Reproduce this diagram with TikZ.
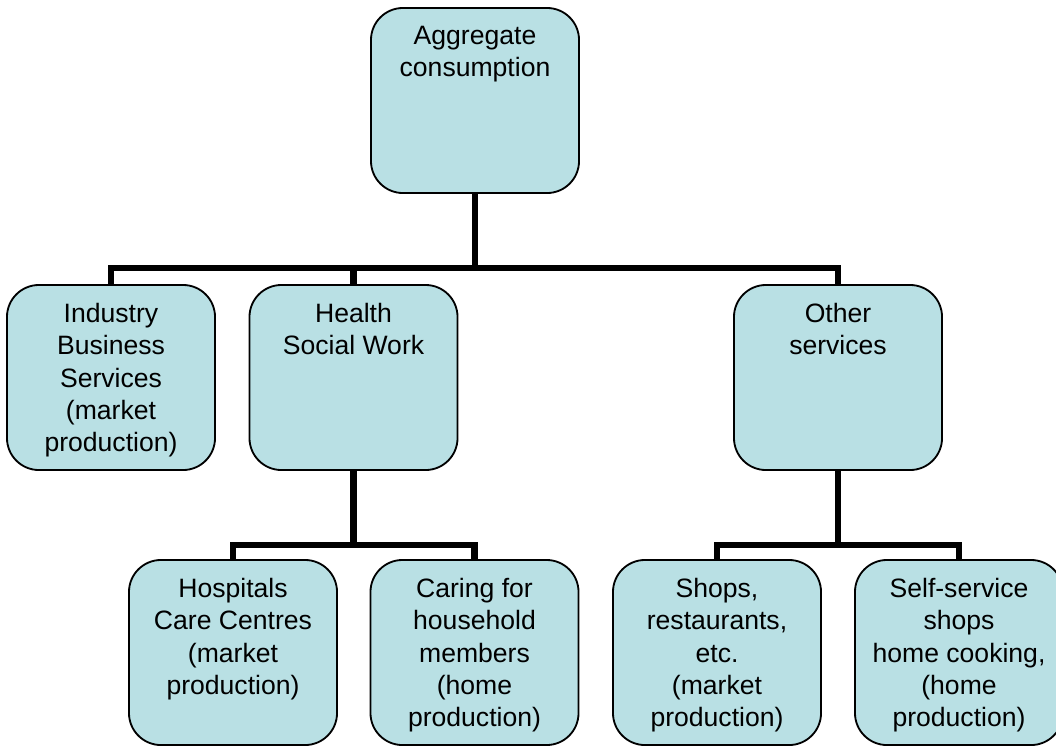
\documentclass[tikz,border=0pt]{standalone}
\usepackage{fontspec}
\setmainfont{Liberation Sans}
\usetikzlibrary{positioning}

\definecolor{boxfill}{RGB}{185,224,228}

\tikzset{
  catbox/.style={draw=black, line width=1.3pt, fill=boxfill,
    rounded corners=0.8cm, inner sep=0pt,
    minimum width=5.2cm, minimum height=4.625cm,
    font=\fontsize{18.9}{22.9}\selectfont},
  conn/.style={line width=4.3pt},
}

\newcommand{\boxtext}[1]{\parbox[t][4.625cm][t]{5.2cm}{\vspace*{0.46cm}\centering #1\par}}

\begin{document}
\begin{tikzpicture}[x=0.025cm, y=-0.025cm]
      \useasboundingbox (0,0) rectangle (1056,745);
      \clip (0,0) rectangle (1056,745);

      \pgfmathsetmacro{\rowone}{268};
      \pgfmathsetmacro{\rowtwo}{545};

      % top level
      \node[catbox] (aggr) at (475,100.5) {\boxtext{Aggregate\\consumption}};

      % second level
      \node[catbox] (industry) at (111,377.5) {\boxtext{Industry\\Business\\Services\\(market\\production)}};
      \node[catbox] (health) at (353.5,377.5) {\boxtext{Health\\Social Work}};
      \node[catbox] (other) at (838,377.5) {\boxtext{Other\\services}};

      % third level
      \node[catbox] (hospitals) at (233,652.5) {\boxtext{Hospitals\\Care Centres\\(market\\production)}};
      \node[catbox] (caring) at (474.5,652.5) {\boxtext{Caring for\\household\\members\\(home\\production)}};
      \node[catbox] (shops) at (717,652.5) {\boxtext{Shops,\\restaurants,\\etc.\\(market\\production)}};
      \node[catbox] (selfserv) at (959,652.5) {\boxtext{Self-service\\shops\\home cooking,\\(home\\production)}};

      \coordinate (split1) at (475,\rowone);
      \coordinate (split2) at (353.5,\rowtwo);
      \coordinate (split3) at (838,\rowtwo);

      \draw[conn] (aggr.south) -- (split1);
      \draw[conn] (industry.north) -- (industry.north |- split1)
        -- (other.north |- split1) -- (other.north);
      \draw[conn] (health.north) -- (health.north |- split1);

      \draw[conn] (health.south) -- (split2);
      \draw[conn] (hospitals.north) -- (hospitals.north |- split2)
        -- (caring.north |- split2) -- (caring.north);

      \draw[conn] (other.south) -- (split3);
      \draw[conn] (shops.north) -- (shops.north |- split3)
        -- (selfserv.north |- split3) -- (selfserv.north);
    \end{tikzpicture}
\end{document}
